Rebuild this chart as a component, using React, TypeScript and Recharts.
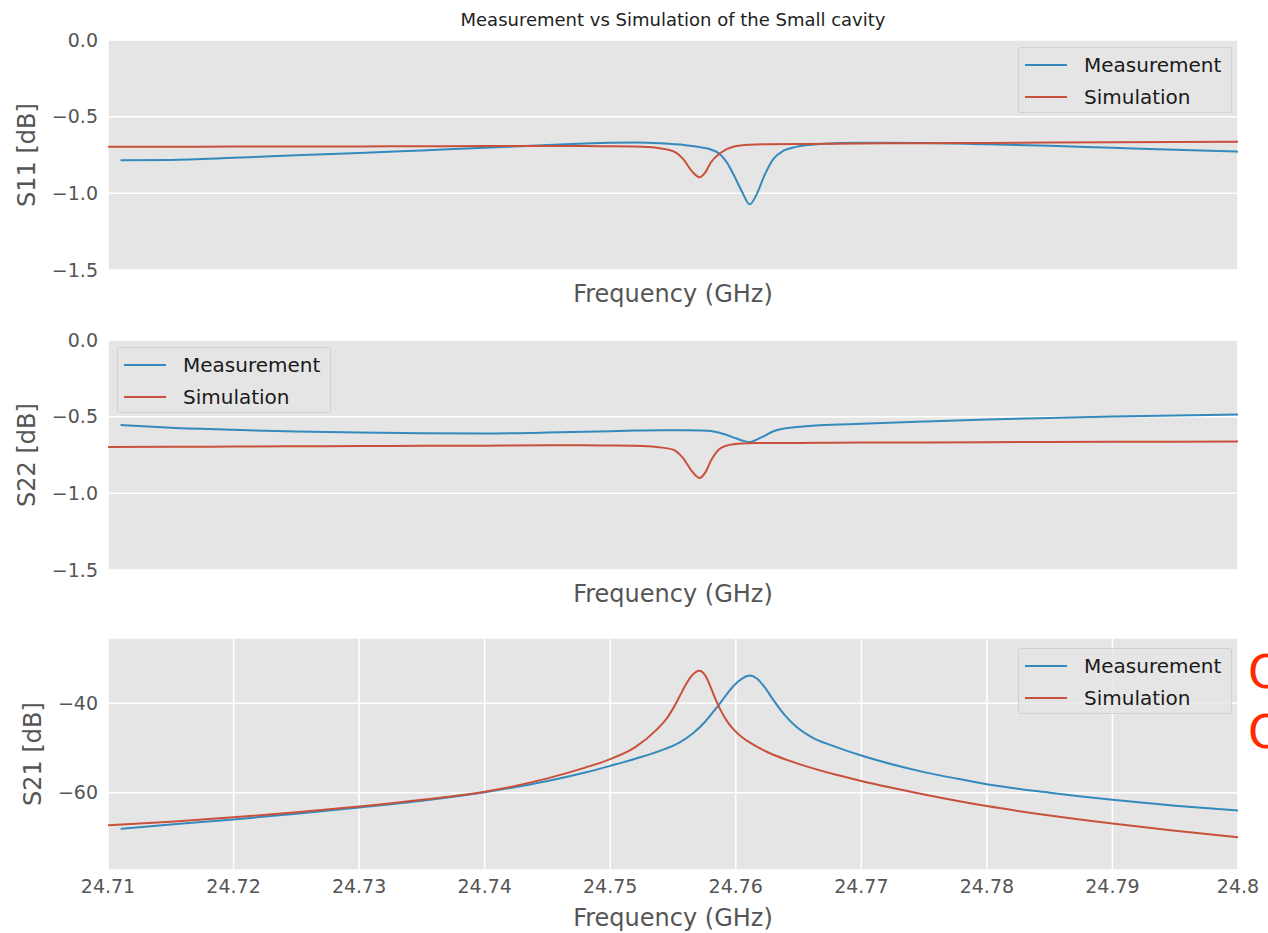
import { LineChart, Line, XAxis, YAxis, CartesianGrid, Legend } from 'recharts';

// frequency sweeps (GHz): reflection traces, then the transmission traces
const measFreq = [
    24.711, 24.715, 24.72, 24.725, 24.73, 24.735, 24.74, 24.745, 24.75, 24.752, 24.754, 24.756,
    24.7572, 24.758, 24.7587, 24.7593, 24.7599, 24.7605, 24.7611, 24.7617, 24.7623, 24.763,
    24.7638, 24.7648, 24.7667, 24.77, 24.775, 24.78, 24.785, 24.79, 24.795, 24.8,
];
const simFreq = [
    24.71, 24.715, 24.72, 24.725, 24.73, 24.735, 24.74, 24.745, 24.748, 24.75, 24.752, 24.7537,
    24.755, 24.7558, 24.7565, 24.7571, 24.7576, 24.758, 24.7588, 24.7598, 24.7611, 24.7625,
    24.7651, 24.7678, 24.77, 24.775, 24.78, 24.785, 24.79, 24.795, 24.8,
];
const s21MeasFreq = [
    24.711, 24.715, 24.72, 24.725, 24.73, 24.735, 24.74, 24.745, 24.748, 24.75, 24.752, 24.754,
    24.7555, 24.7566, 24.7575, 24.7585, 24.7592, 24.7598, 24.7605, 24.7611, 24.7617, 24.7623,
    24.763, 24.7638, 24.7648, 24.766, 24.7678, 24.77, 24.7725, 24.775, 24.7775, 24.78, 24.785,
    24.79, 24.795, 24.8,
];
const s21SimFreq = [
    24.71, 24.715, 24.72, 24.725, 24.73, 24.735, 24.74, 24.745, 24.748, 24.75, 24.752, 24.7537,
    24.7545, 24.755, 24.7555, 24.756, 24.7565, 24.7571, 24.7576, 24.758, 24.7584, 24.7588,
    24.7593, 24.7598, 24.7605, 24.7615, 24.7625, 24.764, 24.7655, 24.768, 24.77, 24.775, 24.78,
    24.785, 24.79, 24.795, 24.8,
];

// S11 [dB]
const s11Meas = [
    -0.785, -0.782, -0.768, -0.752, -0.737, -0.72, -0.703, -0.685, -0.67, -0.669, -0.674, -0.686,
    -0.7, -0.714, -0.742, -0.8, -0.89, -0.99, -1.072, -1.0, -0.88, -0.775,
    -0.722, -0.697, -0.679, -0.67, -0.672, -0.68, -0.69, -0.703, -0.716, -0.728,
];
const s11Sim = [
    -0.696, -0.696, -0.695, -0.695, -0.694, -0.693, -0.692, -0.692, -0.692, -0.693, -0.695, -0.703,
    -0.725, -0.775, -0.855, -0.895, -0.86, -0.8, -0.735, -0.696, -0.683, -0.68,
    -0.678, -0.676, -0.675, -0.673, -0.671, -0.669, -0.667, -0.665, -0.663,
];

// S22 [dB]
const s22Meas = [
    -0.555, -0.572, -0.586, -0.597, -0.604, -0.608, -0.609, -0.604, -0.595, -0.59, -0.588, -0.588,
    -0.59, -0.594, -0.605, -0.62, -0.638, -0.655, -0.666, -0.648, -0.625, -0.595,
    -0.578, -0.568, -0.556, -0.546, -0.532, -0.519, -0.508, -0.499, -0.492, -0.486,
];
const s22Sim = [
    -0.698, -0.697, -0.695, -0.693, -0.692, -0.69, -0.689, -0.687, -0.687, -0.688, -0.69, -0.698,
    -0.715, -0.77, -0.855, -0.9, -0.86, -0.79, -0.705, -0.68, -0.673, -0.672,
    -0.671, -0.67, -0.669, -0.668, -0.667, -0.665, -0.664, -0.663, -0.662,
];

// S21 [dB]
const s21Meas = [
    -68.1, -67.1, -66.0, -64.7, -63.3, -61.8, -59.9, -57.4, -55.5, -54.0, -52.4, -50.6,
    -48.8, -46.7, -44.3, -40.9, -38.3, -36.2, -34.5, -33.8, -34.5, -36.4,
    -39.3, -42.3, -45.2, -47.5, -49.6, -51.7, -53.7, -55.4, -56.8, -58.1, -60.0,
    -61.6, -62.9, -64.0,
];
const s21Sim = [
    -67.3, -66.5, -65.5, -64.4, -63.1, -61.6, -59.8, -56.8, -54.4, -52.5, -49.8, -45.9,
    -43.4, -41.2, -38.6, -35.9, -33.8, -32.7, -33.9, -36.4, -39.2, -41.6,
    -44.0, -45.8, -47.6, -49.4, -50.9, -52.6, -54.0, -56.0, -57.4, -60.4, -63.0,
    -65.1, -66.9, -68.5, -70.0,
];

const freqTicks = [24.71, 24.72, 24.73, 24.74, 24.75, 24.76, 24.77, 24.78, 24.79, 24.8];

const BLUE = '#348ABD';
const RED = '#C8513B';
const TICK = '#555555';

const zip = (fs: number[], vs: number[]) => fs.map((f, i) => ({ f, v: vs[i] }));
const minus = (s: string) => s.replace('-', '\u2212');

const LegendBox = (props: any) => (
    <div
        style={{
            width: 212,
            height: 64,
            border: '1px solid rgba(204,204,204,0.8)',
            background: 'rgba(229,229,229,0.8)',
            borderRadius: 3,
        }}
    >
        {(props.payload || []).map((e: any) => (
            <div key={e.value} style={{ display: 'flex', alignItems: 'center', height: 31, marginTop: 1 }}>
                <span style={{ display: 'inline-block', marginLeft: 6, width: 42, height: 2, background: e.color }} />
                <span style={{ marginLeft: 17, fontSize: 20, color: '#1a1a1a' }}>{e.value}</span>
            </div>
        ))}
    </div>
);

type PanelProps = {
    top: number;
    plotHeight: number;
    axisHeight: number;
    labelOffset: number;
    yLabel: string;
    yLabelX: number;
    yDomain: [number, number];
    yTicks: number[];
    yDigits: number;
    meas: { f: number; v: number }[];
    sim: { f: number; v: number }[];
    legendLeft: number;
    legendTop: number;
    showFreqTicks: boolean;
};

const Panel = (p: PanelProps) => (
    <div style={{ position: 'absolute', left: 0, top: p.top }}>
        <LineChart
            width={1268}
            height={40 + p.plotHeight + p.axisHeight}
            margin={{ top: 40, right: 30, bottom: 0, left: 0 }}
        >
            <CartesianGrid fill="#E5E5E5" stroke="#ffffff" strokeWidth={1.5} />
            <XAxis
                type="number"
                dataKey="f"
                domain={[24.71, 24.8]}
                ticks={freqTicks}
                allowDataOverflow
                height={p.axisHeight}
                axisLine={false}
                tickLine={false}
                tickSize={6}
                tickMargin={4}
                tick={p.showFreqTicks ? { fill: TICK, fontSize: 19 } : false}
                tickFormatter={(v: number) => String(v)}
                label={{
                    value: 'Frequency (GHz)',
                    position: 'insideBottom',
                    offset: p.labelOffset,
                    fill: TICK,
                    fontSize: 24,
                }}
            />
            <YAxis
                type="number"
                domain={p.yDomain}
                ticks={p.yTicks}
                allowDataOverflow
                width={108}
                axisLine={false}
                tickLine={false}
                tickSize={6}
                tickMargin={4}
                tick={{ fill: TICK, fontSize: 19 }}
                tickFormatter={(v: number) => minus(v.toFixed(p.yDigits))}
                label={{
                    value: p.yLabel,
                    angle: -90,
                    position: 'insideLeft',
                    offset: p.yLabelX,
                    fill: TICK,
                    fontSize: 24,
                    style: { textAnchor: 'middle' },
                }}
            />
            <Legend
                layout="horizontal"
                align="center"
                verticalAlign="middle"
                wrapperStyle={{ left: p.legendLeft, top: p.legendTop, width: 214 }}
                content={LegendBox}
            />
            <Line
                data={p.meas}
                dataKey="v"
                name="Measurement"
                type="monotone"
                stroke={BLUE}
                strokeWidth={2}
                dot={false}
                isAnimationActive={false}
            />
            <Line
                data={p.sim}
                dataKey="v"
                name="Simulation"
                type="monotone"
                stroke={RED}
                strokeWidth={2}
                dot={false}
                isAnimationActive={false}
            />
        </LineChart>
    </div>
);

export default function App() {
    return (
        <div
            style={{
                position: 'absolute',
                left: 0,
                top: 0,
                width: 1268,
                height: 933,
                overflow: 'hidden',
                background: '#fff',
                fontFamily: "'DejaVu Sans', sans-serif",
            }}
        >
            <div
                style={{
                    position: 'absolute',
                    left: 108,
                    top: 9,
                    width: 1130,
                    textAlign: 'center',
                    fontSize: 18,
                    lineHeight: '22px',
                    color: '#222',
                }}
            >
                Measurement vs Simulation of the Small cavity
            </div>
            <Panel
                top={0}
                plotHeight={230}
                axisHeight={46}
                labelOffset={14}
                yLabel="S11 [dB]"
                yLabelX={26}
                yDomain={[-1.5, 0]}
                yTicks={[0, -0.5, -1, -1.5]}
                yDigits={1}
                meas={zip(measFreq, s11Meas)}
                sim={zip(simFreq, s11Sim)}
                legendLeft={1018}
                legendTop={47}
                showFreqTicks={false}
            />
            <Panel
                top={300}
                plotHeight={230}
                axisHeight={46}
                labelOffset={14}
                yLabel="S22 [dB]"
                yLabelX={26}
                yDomain={[-1.5, 0]}
                yTicks={[0, -0.5, -1, -1.5]}
                yDigits={1}
                meas={zip(measFreq, s22Meas)}
                sim={zip(simFreq, s22Sim)}
                legendLeft={117}
                legendTop={47}
                showFreqTicks={false}
            />
            <Panel
                top={598}
                plotHeight={232}
                axisHeight={62}
                labelOffset={6}
                yLabel="S21 [dB]"
                yLabelX={32}
                yDomain={[-77.3, -25.4]}
                yTicks={[-60, -40]}
                yDigits={0}
                meas={zip(s21MeasFreq, s21Meas)}
                sim={zip(s21SimFreq, s21Sim)}
                legendLeft={1018}
                legendTop={50}
                showFreqTicks
            />
            <svg
                width={1268}
                height={933}
                style={{ position: 'absolute', left: 0, top: 0, pointerEvents: 'none' }}
            >
                <text x={1248} y={688} fontSize={46} fill="#FF2A00">Q</text>
                <text x={1248} y={748} fontSize={46} fill="#FF2A00">Q</text>
            </svg>
        </div>
    );
}
